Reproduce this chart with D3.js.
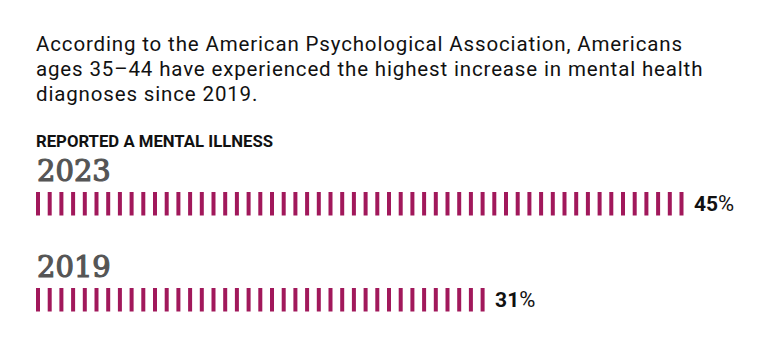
<!DOCTYPE html>
<html>
<head>
<meta charset="utf-8">
<script src="https://cdn.jsdelivr.net/npm/d3@7"></script>
<style>
  body { margin: 0; background: #fff; }
  svg { display: block; }
</style>
</head>
<body>
<div id="chart"></div>
<script>
// data
const introLines = [
  'According to the American Psychological Association, Americans',
  'ages 35\u201344 have experienced the highest increase in mental health',
  'diagnoses since 2019.'
];
const heading = 'REPORTED A MENTAL ILLNESS';
const years = ['2023', '2019'];
const values = [45, 31];
const unitPerMark = 0.8; // one tick mark = 0.8 percentage points

const width = 770;
const height = 353;

const svg = d3.select('#chart').append('svg')
  .attr('width', width)
  .attr('height', height);

// intro text
svg.selectAll('.intro')
  .data(introLines)
  .enter()
  .append('text')
  .attr('class', 'intro')
  .attr('x', 36)
  .attr('y', (d, i) => 51 + i * 25)
  .attr('fill', '#111')
  .style('font-family', 'Roboto, sans-serif')
  .style('font-size', '20.5px')
  .style('letter-spacing', '0.85px')
  .text(d => d);

svg.append('text')
  .attr('x', 36)
  .attr('y', 146.5)
  .attr('fill', '#111')
  .attr('textLength', 237)
  .attr('lengthAdjust', 'spacingAndGlyphs')
  .style('font-family', 'Roboto, sans-serif')
  .style('font-weight', 'bold')
  .style('font-size', '16px')
  .text(heading);

const step = 11.7;
const markW = 4;
const x = d3.scaleLinear()
  .domain([0, unitPerMark])
  .range([36, 36 + step]);

const rowY = d3.scalePoint()
  .domain(years)
  .range([192, 288]);

const rows = svg.selectAll('.row')
  .data(years.map((y, i) => ({ year: y, value: values[i] })))
  .enter()
  .append('g')
  .attr('class', 'row')
  .attr('transform', d => `translate(0,${rowY(d.year)})`);

rows.append('text')
  .attr('x', 37)
  .attr('y', -11.5)
  .attr('fill', '#555')
  .attr('stroke', '#555')
  .attr('stroke-width', 1.2)
  .style('font-family', '"DejaVu Serif", serif')
  .style('font-size', '29px')
  .text(d => d.year);

rows.each(function (d) {
  const n = Math.round(d.value / unitPerMark);
  const g = d3.select(this);
  g.selectAll('rect')
    .data(d3.range(n))
    .enter()
    .append('rect')
    .attr('x', i => x(i * unitPerMark))
    .attr('y', 0)
    .attr('width', markW)
    .attr('height', 23.5)
    .attr('fill', '#a1185b');

  const lastX = x((n - 1) * unitPerMark) + markW;
  const label = g.append('text')
    .attr('x', lastX + 10.5)
    .attr('y', 18.5)
    .attr('fill', '#111')
    .style('font-family', 'Roboto, sans-serif')
    .style('font-size', '21px');
  label.append('tspan')
    .style('font-weight', 'bold')
    .text(d.value);
  label.append('tspan')
    .style('font-weight', 'normal')
    .style('font-size', '22px')
    .text('%');
});
</script>
</body>
</html>
